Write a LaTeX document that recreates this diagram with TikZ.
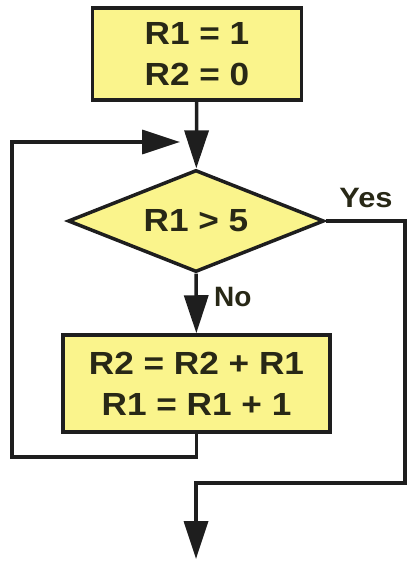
\documentclass[tikz,border=0pt]{standalone}
\usepackage{fontspec}
\setmainfont{Liberation Sans}
\usepackage{graphicx}
\usetikzlibrary{shapes.geometric,arrows.meta}
\definecolor{boxfill}{RGB}{250,244,140}
\definecolor{linecol}{RGB}{30,30,30}
\definecolor{txtcol}{RGB}{40,40,22}
\newcommand\wideline[1]{\scalebox{1.1}[1]{#1}}
\tikzset{
  x=1pt, y=-1pt,
  flowtext/.style={text=txtcol, font=\bfseries\fontsize{32}{41}\selectfont, align=center, inner sep=0pt},
  procbox/.style={flowtext, draw=linecol, line width=3.5pt, fill=boxfill, rectangle},
  decision/.style={flowtext, draw=linecol, line width=3.5pt, fill=boxfill, diamond, inner sep=0pt, shape aspect=2.5},
  lbl/.style={text=txtcol, font=\bfseries\fontsize{28}{32}\selectfont, inner sep=0pt},
  conn/.style={draw=linecol, line width=3.5pt},
  arr/.style={conn, -{Triangle[length=38pt,width=24pt]}},
}
\begin{document}
\begin{tikzpicture}
\useasboundingbox (0,0) rectangle (409,564);
\node[procbox, minimum width=209pt, minimum height=92pt] (init) at (197,54)
  {\wideline{R1 = 1}\\\wideline{R2 = 0}};
\node[decision, minimum width=256pt, minimum height=102pt] (test) at (196,221)
  {\wideline{R1 > 5}};
\node[procbox, minimum width=267pt, minimum height=97pt] (body) at (196.5,383.5)
  {\wideline{R2 = R2 + R1}\\\wideline{R1 = R1 + 1}};
\node[lbl] (yes) at (366,198) {\scalebox{1.1}[1]{Yes}};
\node[lbl, anchor=west] (no) at (214,297) {No};
\coordinate (loopin) at (180,142);
\coordinate (loopleft) at (12,142);
\coordinate (loopbottom) at (12,457);
\coordinate (yesright) at (405,221);
\coordinate (yesbottom) at (405,483);
\coordinate (exitturn) at (196,483);
\coordinate (exitend) at (196,559);
\draw[arr] (init) -- (test);
\draw[arr] (test) -- (body);
\draw[arr] (body.south) -- (body.south |- loopbottom) -- (loopbottom) -- (loopleft) -- (loopin);
\draw[arr] (test.east) -- (yesright) -- (yesbottom) -- (exitturn) -- (exitend);
\end{tikzpicture}
\end{document}
